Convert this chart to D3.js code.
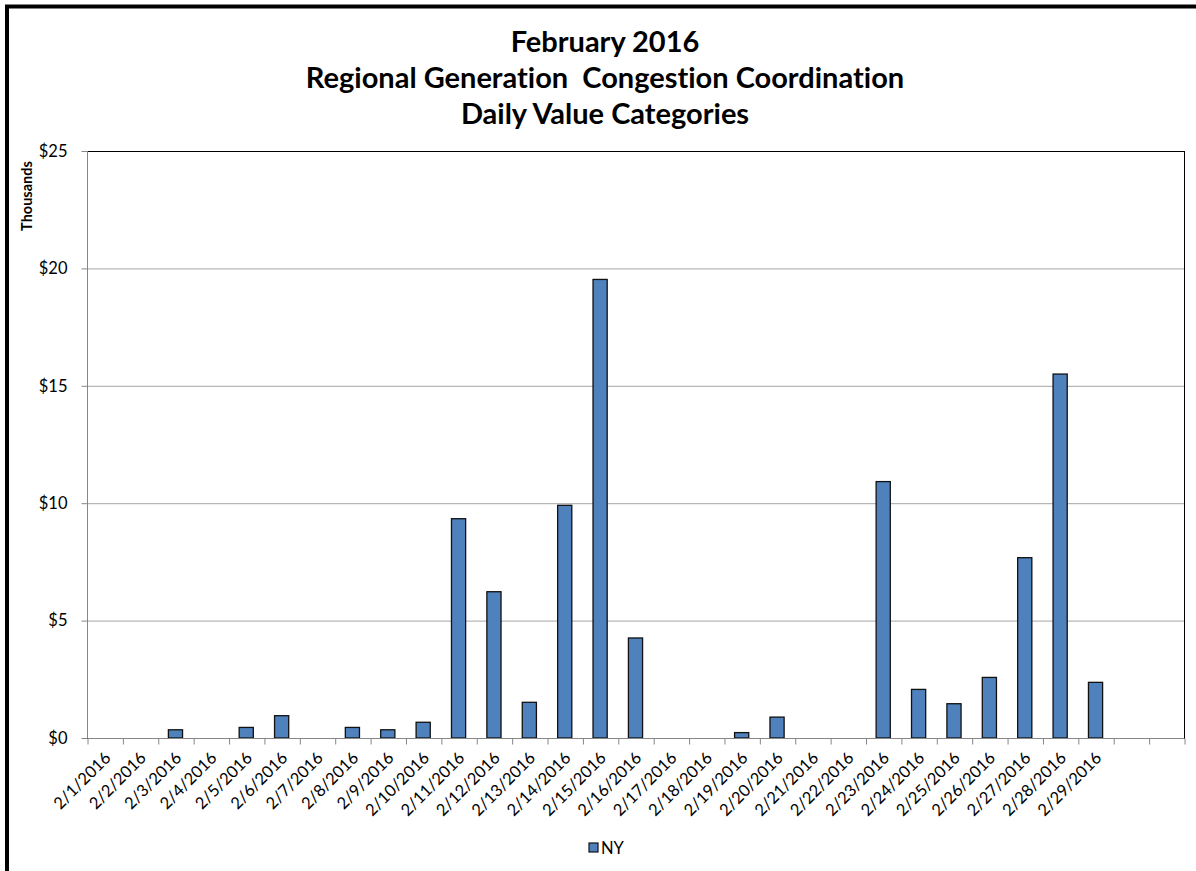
<!DOCTYPE html>
<html>
<head>
<meta charset="utf-8">
<script src="https://cdn.jsdelivr.net/npm/d3@7"></script>
<style>
  body { margin: 0; background: #fff; }
  text { font-family: Lato, "Open Sans", sans-serif; fill: #000; font-variant-ligatures: none; }
  .axis path, .axis line { stroke: #868686; }
  .grid line { stroke: #a6a6a6; }
</style>
</head>
<body>
<div id="chart"></div>
<script>
// categories, values in thousands of $
const dates = ['2/1/2016','2/2/2016','2/3/2016','2/4/2016','2/5/2016','2/6/2016','2/7/2016',
  '2/8/2016','2/9/2016','2/10/2016','2/11/2016','2/12/2016','2/13/2016','2/14/2016','2/15/2016',
  '2/16/2016','2/17/2016','2/18/2016','2/19/2016','2/20/2016','2/21/2016','2/22/2016','2/23/2016',
  '2/24/2016','2/25/2016','2/26/2016','2/27/2016','2/28/2016','2/29/2016'];
const nyValues = [0, 0, 0.35, 0, 0.45, 0.95, 0, 0.45, 0.35, 0.67, 9.34, 6.23, 1.52, 9.91, 19.53,
  4.26, 0, 0, 0.23, 0.89, 0, 0, 10.92, 2.07, 1.46, 2.58, 7.68, 15.5, 2.37];
const emptySlots = 2;
const yTicks = [0, 5, 10, 15, 20, 25];
const titleLines = ['February 2016', 'Regional Generation  Congestion Coordination', 'Daily Value Categories'];
const seriesName = 'NY';

class ColumnChart {

  constructor(_config) {
    this.config = {
      parentElement: _config.parentElement,
      containerWidth: 1196,
      containerHeight: 871,
      margin: {top: 151, right: 12, bottom: 133, left: 87}
    }
    this.initVis();
  }

  initVis() {
    let vis = this;
    vis.width = vis.config.containerWidth - vis.config.margin.left - vis.config.margin.right;
    vis.height = vis.config.containerHeight - vis.config.margin.top - vis.config.margin.bottom;

    vis.slots = d3.range(dates.length + emptySlots);

    vis.xScale = d3.scaleBand()
        .domain(vis.slots)
        .range([0, vis.width])
        .paddingInner(0.6)
        .paddingOuter(0.3);

    // edges of the categories, for tick marks
    vis.xEdge = d3.scaleLinear()
        .domain([0, vis.slots.length])
        .range([0, vis.width]);

    vis.yScale = d3.scaleLinear()
        .domain([0, 25])
        .range([vis.height, 0]);

    vis.svg = d3.select(vis.config.parentElement).append('svg')
        .attr('width', vis.config.containerWidth)
        .attr('height', vis.config.containerHeight);

    // outer frame (runs off the picture to the right and bottom)
    vis.svg.append('rect')
        .attr('x', 7)
        .attr('y', 6.5)
        .attr('width', 1400)
        .attr('height', 1100)
        .attr('fill', 'none')
        .attr('stroke', '#000')
        .attr('stroke-width', 4);

    vis.chart = vis.svg.append('g')
        .attr('transform', `translate(${vis.config.margin.left},${vis.config.margin.top})`);

    vis.chart.append('g')
        .attr('class', 'grid')
        .selectAll('line')
        .data(yTicks.slice(1))
        .join('line')
        .attr('x1', 0)
        .attr('x2', vis.width)
        .attr('y1', d => vis.yScale(d) + 0.5)
        .attr('y2', d => vis.yScale(d) + 0.5);

    vis.chart.append('rect')
        .attr('x', 0.5)
        .attr('y', 0.5)
        .attr('width', vis.width)
        .attr('height', vis.height)
        .attr('fill', 'none')
        .attr('stroke', '#000')
        .attr('stroke-width', 1);

    vis.svg.selectAll('.title')
        .data(titleLines)
        .join('text')
        .attr('class', 'title')
        .attr('x', 605)
        .attr('y', (d, i) => 52 + i * 36)
        .attr('text-anchor', 'middle')
        .attr('font-size', 29)
        .attr('font-weight', 'bold')
        .attr('xml:space', 'preserve')
        .text(d => d);

    vis.svg.append('text')
        .attr('transform', 'translate(32,196) rotate(-90)')
        .attr('text-anchor', 'middle')
        .attr('font-size', 14.5)
        .attr('font-weight', 'bold')
        .text('Thousands');

    vis.renderVis();
  }

  renderVis() {
    let vis = this;

    const barData = nyValues.map((v, i) => ({i, v})).filter(d => d.v > 0);

    vis.chart.selectAll('.bar')
        .data(barData)
        .join('rect')
        .attr('class', 'bar')
        .attr('fill', '#4f81bd')
        .attr('stroke', '#111')
        .attr('stroke-width', 1.3)
        .attr('x', d => vis.xScale(d.i))
        .attr('width', vis.xScale.bandwidth())
        .attr('y', d => vis.yScale(d.v))
        .attr('height', d => vis.height - vis.yScale(d.v));

    // y axis
    const yAxis = d3.axisLeft(vis.yScale)
        .tickValues(yTicks)
        .tickSize(6)
        .tickPadding(14)
        .tickFormat(d => '$' + d);
    const yAxisG = vis.chart.append('g')
        .attr('class', 'axis y-axis')
        .attr('transform', 'translate(0.5,0)')
        .call(yAxis);
    yAxisG.select('.domain').attr('d', `M0,0V${vis.height}`);
    yAxisG.selectAll('text').attr('font-size', 16.5).attr('fill', '#000');

    // x axis: tick marks at category edges
    const xTickAxis = d3.axisBottom(vis.xEdge)
        .tickValues(d3.range(vis.slots.length + 1))
        .tickSize(6)
        .tickFormat('');
    const xTickG = vis.chart.append('g')
        .attr('class', 'axis x-axis')
        .attr('transform', `translate(0.5,${vis.height + 0.5})`)
        .call(xTickAxis);
    xTickG.select('.domain').attr('d', `M0,0H${vis.width}`);

    // x labels, rotated
    vis.chart.append('g')
        .attr('class', 'x-labels')
        .selectAll('text')
        .data(dates)
        .join('text')
        .attr('text-anchor', 'end')
        .attr('font-size', 16.5)
        .attr('transform', (d, i) => {
          const cx = vis.xScale(i) + vis.xScale.bandwidth() / 2 + 7;
          return `translate(${cx},${vis.height + 21}) rotate(-45)`;
        })
        .text(d => d);

    // legend
    const legend = vis.svg.append('g')
        .attr('transform', 'translate(589,843)');
    legend.append('rect')
        .attr('width', 9)
        .attr('height', 9)
        .attr('fill', '#4f81bd')
        .attr('stroke', '#111')
        .attr('stroke-width', 1.2);
    legend.append('text')
        .attr('x', 12)
        .attr('y', 11)
        .attr('font-size', 16.5)
        .text(seriesName);
  }
}

new ColumnChart({parentElement: '#chart'});
</script>
</body>
</html>
